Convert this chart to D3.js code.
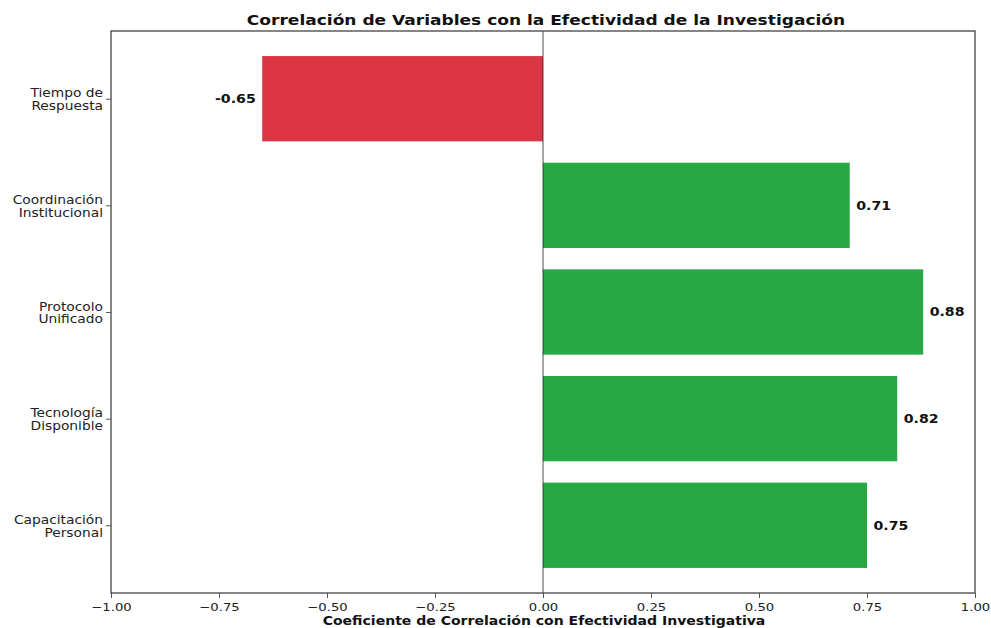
<!DOCTYPE html>
<html>
<head>
<meta charset="utf-8">
<script src="https://cdn.jsdelivr.net/npm/d3@7"></script>
<style>
  body { margin: 0; background: #fff; }
  svg { font-family: "DejaVu Sans", sans-serif; }
</style>
</head>
<body>
<svg id="chart" width="991" height="628"></svg>
<script>
// categories from bottom (index 0) to top
var categories = [
  ["Capacitación", "Personal"],
  ["Tecnología", "Disponible"],
  ["Protocolo", "Unificado"],
  ["Coordinación", "Institucional"],
  ["Tiempo de", "Respuesta"]
];
var correlations = [0.75, 0.82, 0.88, 0.71, -0.65];
var x_ticks = [-1.0, -0.75, -0.5, -0.25, 0.0, 0.25, 0.5, 0.75, 1.0];

var title_text = "Correlación de Variables con la Efectividad de la Investigación";
var xlabel_text = "Coeficiente de Correlación con Efectividad Investigativa";

var margin = {left: 111, right: 16, top: 31, bottom: 35};
var W = 991, H = 628;
var stretch = 1.2; // the figure text is a bit wider than tall
var svg = d3.select("#chart");

var x = d3.scaleLinear().domain([-1, 1]).range([margin.left, W - margin.right]);
// matplotlib style margins round the bars
var y = d3.scaleLinear().domain([-0.635, categories.length - 1 + 0.635])
                        .range([H - margin.bottom, margin.top]);
var bar_h = y(0) - y(0.8);

var data = correlations.map((v, i) => ({label: categories[i], value: v, idx: i}));

function place(px, py) {
  return "translate(" + px + "," + py + ") scale(" + stretch + ",1)";
}

// bars
svg.append("g").selectAll("rect")
  .data(data)
  .enter()
  .append("rect")
  .attr("x", d => x(Math.min(0, d.value)))
  .attr("y", d => y(d.idx) - bar_h / 2)
  .attr("width", d => Math.abs(x(d.value) - x(0)))
  .attr("height", bar_h)
  .style("fill", d => d.value < 0 ? "#dc3545" : "#28a745");

// zero line
svg.append("line")
  .attr("x1", x(0)).attr("x2", x(0))
  .attr("y1", margin.top).attr("y2", H - margin.bottom)
  .attr("stroke", "#222").attr("stroke-width", 0.8);

// value labels
svg.append("g").selectAll("text")
  .data(data)
  .enter()
  .append("text")
  .attr("transform", d => place(d.value < 0 ? x(d.value - 0.015) : x(d.value + 0.015), y(d.idx)))
  .attr("dy", "0.36em")
  .attr("text-anchor", d => d.value < 0 ? "end" : "start")
  .style("font-size", "11.8px")
  .style("font-weight", "bold")
  .style("fill", "#111")
  .text(d => d.value.toFixed(2));

// x axis
var x_axis = d3.axisBottom(x)
  .tickValues(x_ticks)
  .tickFormat(d => d3.format(".2f")(d).replace("-", "\u2212"))
  .tickSize(5)
  .tickPadding(5);

var gx = svg.append("g")
  .attr("transform", "translate(0," + (H - margin.bottom) + ")")
  .call(x_axis);
gx.select(".domain").remove();
gx.selectAll("line").attr("stroke", "#555").attr("stroke-width", 1);
gx.selectAll("text")
  .attr("transform", "scale(" + stretch + ",1)")
  .style("font-size", "11px")
  .style("font-family", "DejaVu Sans")
  .style("fill", "#222");

// y axis
var y_axis = d3.axisLeft(y)
  .tickValues(d3.range(categories.length))
  .tickFormat("")
  .tickSize(5);

var gy = svg.append("g")
  .attr("transform", "translate(" + margin.left + ",0)")
  .call(y_axis);
gy.select(".domain").remove();
gy.selectAll("line").attr("stroke", "#555").attr("stroke-width", 1);

var ylab = svg.append("g").selectAll("text")
  .data(data)
  .enter()
  .append("text")
  .attr("transform", d => place(margin.left - 8, y(d.idx)))
  .attr("text-anchor", "end")
  .style("font-size", "11.5px")
  .style("fill", "#222");

ylab.append("tspan")
  .attr("x", 0)
  .attr("y", -1.5)
  .text(d => d.label[0]);
ylab.append("tspan")
  .attr("x", 0)
  .attr("y", 11.5)
  .text(d => d.label[1]);

// frame
svg.append("rect")
  .attr("x", margin.left)
  .attr("y", margin.top)
  .attr("width", W - margin.left - margin.right)
  .attr("height", H - margin.top - margin.bottom)
  .attr("fill", "none")
  .attr("stroke", "#444")
  .attr("stroke-width", 1.3);

// title
svg.append("text")
  .attr("transform", place(546, 25))
  .attr("text-anchor", "middle")
  .style("font-size", "14.2px")
  .style("font-weight", "bold")
  .style("fill", "#111")
  .text(title_text);

// x label
svg.append("text")
  .attr("transform", place(544, 625))
  .attr("text-anchor", "middle")
  .style("font-size", "11.7px")
  .style("font-weight", "bold")
  .style("fill", "#111")
  .text(xlabel_text);
</script>
</body>
</html>
